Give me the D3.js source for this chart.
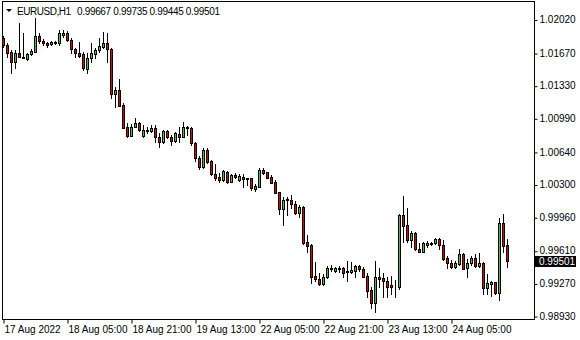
<!DOCTYPE html>
<html>
<head>
<meta charset="utf-8">
<script src="https://cdn.jsdelivr.net/npm/d3@7"></script>
<style>
  html, body { margin: 0; padding: 0; background: #fff; }
  svg { display: block; font-family: "Liberation Sans", Arial, sans-serif; }
</style>
</head>
<body>
<div id="chart"></div>
<script>
// EURUSD H1, 17 Aug 2022 13:00 .. 24 Aug 2022 19:00
const symbolTitle = "EURUSD,H1";

const open = [
  1.01827,1.01754,1.01681,1.01577,1.01671,1.01632,1.01608,1.01657,1.01685,1.01848,
  1.01799,1.01772,1.01764,1.01772,1.01775,1.01858,1.01879,1.01806,1.01712,1.01674,
  1.01657,1.01500,1.01617,1.01660,1.01702,1.01736,1.01778,1.01709,1.01240,1.01285,
  1.01129,1.00896,1.00808,1.00902,1.00938,1.00805,1.00868,1.00861,1.00892,1.00792,
  1.00746,1.00858,1.00798,1.00757,1.00827,1.00798,1.00886,1.00886,1.00730,1.00573,
  1.00479,1.00660,1.00545,1.00406,1.00375,1.00347,1.00427,1.00329,1.00396,1.00347,
  1.00382,1.00365,1.00365,1.00253,1.00278,1.00451,1.00427,1.00375,1.00329,1.00219,
  1.00042,1.00146,1.00139,1.00094,1.00007,1.00063,0.99698,0.99667,0.99348,0.99315,
  0.99263,0.99333,0.99433,0.99399,0.99430,0.99427,0.99402,0.99392,0.99402,0.99451,
  0.99419,0.99347,0.99201,0.99062,0.99333,0.99329,0.99298,0.99253,0.99242,0.99235,
  0.99983,0.99878,0.99722,0.99793,0.99627,0.99601,0.99670,0.99687,0.99687,0.99729,
  0.99670,0.99530,0.99487,0.99443,0.99471,0.99575,0.99427,0.99487,0.99530,0.99454,
  0.99487,0.99218,0.99267,0.99281,0.99172,0.99896,0.99667
];
const high = [
  1.01848,1.01775,1.01702,1.01702,1.01983,1.01879,1.01671,1.01712,1.02035,1.01879,
  1.01817,1.01785,1.01796,1.01796,1.01910,1.01910,1.01900,1.01827,1.01726,1.01789,
  1.01685,1.01671,1.01775,1.01720,1.01827,1.01893,1.01879,1.01723,1.01316,1.01399,
  1.01147,1.00941,1.00931,1.00993,1.00955,1.00920,1.00902,1.00920,1.00920,1.00837,
  1.00868,1.00868,1.00816,1.00844,1.00902,1.00955,1.00910,1.00902,1.00746,1.00597,
  1.00678,1.00684,1.00555,1.00514,1.00417,1.00451,1.00441,1.00409,1.00423,1.00406,
  1.00406,1.00368,1.00368,1.00305,1.00469,1.00469,1.00434,1.00399,1.00347,1.00226,
  1.00173,1.00170,1.00191,1.00132,1.00087,1.00077,0.99774,0.99680,0.99496,0.99374,
  0.99364,0.99451,0.99461,0.99444,0.99451,0.99437,0.99503,0.99496,0.99461,0.99461,
  0.99437,0.99374,0.99235,0.99506,0.99427,0.99374,0.99341,0.99347,0.99305,0.99993,
  1.00180,1.00058,0.99816,0.99809,0.99687,0.99698,0.99712,0.99704,0.99739,0.99739,
  0.99722,0.99554,0.99513,0.99503,0.99624,0.99583,0.99524,0.99554,0.99572,0.99583,
  0.99496,0.99364,0.99295,0.99288,0.99954,0.99990,0.99735
];
const low = [
  1.01733,1.01632,1.01462,1.01514,1.01624,1.01619,1.01598,1.01650,1.01681,1.01775,
  1.01754,1.01736,1.01754,1.01761,1.01754,1.01840,1.01799,1.01671,1.01632,1.01632,
  1.01493,1.01462,1.01580,1.01617,1.01685,1.01720,1.01580,1.01205,1.01111,1.01118,
  1.00886,1.00792,1.00805,1.00899,1.00861,1.00798,1.00840,1.00851,1.00746,1.00694,
  1.00730,1.00782,1.00712,1.00746,1.00746,1.00792,1.00816,1.00712,1.00548,1.00459,
  1.00469,1.00521,1.00399,1.00347,1.00323,1.00340,1.00319,1.00323,1.00365,1.00337,
  1.00272,1.00295,1.00243,1.00236,1.00272,1.00409,1.00365,1.00312,1.00209,0.99990,
  0.99878,0.99983,1.00052,0.99993,0.99959,0.99680,0.99601,0.99272,0.99298,0.99253,
  0.99253,0.99323,0.99402,0.99392,0.99392,0.99333,0.99295,0.99374,0.99341,0.99402,
  0.99333,0.99131,0.99010,0.98974,0.99235,0.99131,0.99125,0.99162,0.99131,0.99211,
  0.99705,0.99705,0.99653,0.99617,0.99594,0.99594,0.99653,0.99670,0.99677,0.99627,
  0.99513,0.99427,0.99433,0.99433,0.99461,0.99419,0.99341,0.99461,0.99443,0.99443,
  0.99156,0.99162,0.99141,0.99162,0.99096,0.99601,0.99445
];
const close = [
  1.01754,1.01674,1.01577,1.01671,1.01629,1.01622,1.01660,1.01695,1.01848,1.01796,
  1.01772,1.01758,1.01785,1.01789,1.01879,1.01882,1.01806,1.01712,1.01671,1.01643,
  1.01511,1.01617,1.01674,1.01702,1.01744,1.01778,1.01709,1.01240,1.01285,1.01121,
  1.00892,1.00805,1.00902,1.00938,1.00868,1.00868,1.00858,1.00892,1.00792,1.00746,
  1.00858,1.00798,1.00757,1.00834,1.00798,1.00896,1.00896,1.00730,1.00573,1.00486,
  1.00660,1.00538,1.00406,1.00365,1.00347,1.00441,1.00329,1.00399,1.00378,1.00389,
  1.00355,1.00358,1.00261,1.00284,1.00451,1.00423,1.00371,1.00319,1.00215,1.00042,
  1.00139,1.00139,1.00094,1.00007,1.00063,0.99687,0.99659,0.99341,0.99312,0.99263,
  0.99333,0.99427,0.99416,0.99427,0.99419,0.99381,0.99389,0.99409,0.99451,0.99416,
  0.99341,0.99193,0.99062,0.99333,0.99312,0.99298,0.99235,0.99235,0.99238,0.99983,
  0.99871,0.99722,0.99793,0.99624,0.99601,0.99687,0.99694,0.99680,0.99729,0.99670,
  0.99520,0.99483,0.99443,0.99478,0.99575,0.99422,0.99487,0.99530,0.99454,0.99487,
  0.99218,0.99271,0.99281,0.99172,0.99896,0.99663,0.99501
];

const priceTicks = [1.02020, 1.01670, 1.01330, 1.00990, 1.00640, 1.00300, 0.99960, 0.99610, 0.99270, 0.98930];
const timeLabels = ["17 Aug 2022", "18 Aug 05:00", "18 Aug 21:00", "19 Aug 13:00",
                    "22 Aug 05:00", "22 Aug 21:00", "23 Aug 13:00", "24 Aug 05:00"];
const barsPerLabel = 16;

const width = 580, height = 340;
const plot = { left: 2, right: 534, top: 1, bottom: 319 };
const fontFamily = "Liberation Sans, Arial, sans-serif";

const bars = open.map((o, i) => ({ i: i, o: o, h: high[i], l: low[i], c: close[i] }));
const last = bars[bars.length - 1];
const fmt = d3.format(".5f");

// 4px per bar, bar 0 sits on pixel column 3
const x = d3.scaleLinear().domain([0, 133]).range([3, 535]);
const y = d3.scaleLinear().domain([0.98899, 1.02202]).range([plot.bottom, plot.top + 1]);
const py = v => Math.round(y(v));

const svg = d3.select("#chart").append("svg")
  .attr("width", width)
  .attr("height", height);

// candles
const candle = svg.append("g").selectAll("g")
  .data(bars)
  .enter().append("g");

candle.append("line")
  .attr("x1", d => x(d.i) + 0.5)
  .attr("x2", d => x(d.i) + 0.5)
  .attr("y1", d => py(d.h))
  .attr("y2", d => py(d.l) + 1)
  .attr("stroke", "#000")
  .attr("stroke-width", 1);

candle.append("rect")
  .attr("x", d => x(d.i) - 0.5)
  .attr("width", 2)
  .attr("y", d => py(Math.max(d.o, d.c)) + 0.5)
  .attr("height", d => py(Math.min(d.o, d.c)) - py(Math.max(d.o, d.c)))
  .attr("fill", d => d.c > d.o ? "#32cd32" : "#e00000")
  .attr("stroke", "#000")
  .attr("stroke-width", 1)
  .attr("shape-rendering", "crispEdges");

// frame
svg.append("rect")
  .attr("x", plot.left + 0.5)
  .attr("y", plot.top + 0.5)
  .attr("width", plot.right - plot.left)
  .attr("height", plot.bottom - plot.top)
  .attr("fill", "none")
  .attr("stroke", "#000")
  .attr("stroke-width", 1);

// price axis
const yAxis = svg.append("g")
  .attr("transform", "translate(" + (plot.right + 0.5) + ",0)")
  .call(d3.axisRight(y).tickValues(priceTicks).tickFormat(fmt).tickSize(3).tickPadding(2));
yAxis.select(".domain").remove();
yAxis.selectAll("line").attr("transform", "translate(0,0.5)");
yAxis.selectAll("text").attr("font-size", 10).attr("font-family", fontFamily).attr("fill", "#000");

// time axis
const xAxis = svg.append("g")
  .attr("transform", "translate(0," + (plot.bottom + 0.5) + ")")
  .call(d3.axisBottom(x)
    .tickValues(d3.range(0, timeLabels.length).map(k => k * barsPerLabel))
    .tickFormat((d, k) => timeLabels[k])
    .tickSize(4).tickPadding(2));
xAxis.select(".domain").remove();
xAxis.selectAll(".tick line").attr("transform", "translate(0.5,0)");
xAxis.selectAll("text")
  .attr("text-anchor", "start")
  .attr("x", 1)
  .attr("font-size", 10)
  .attr("font-family", fontFamily)
  .attr("fill", "#000");

// current price tag
const tagY = py(last.c);
svg.append("rect")
  .attr("x", plot.right + 1)
  .attr("y", tagY - 5)
  .attr("width", 41)
  .attr("height", 11)
  .attr("fill", "#000");
svg.append("text")
  .attr("x", plot.right + 5)
  .attr("y", tagY + 4)
  .attr("font-size", 10)
  .attr("fill", "#fff")
  .text(fmt(last.c));

// header
svg.append("path")
  .attr("d", "M6,9 L12,9 L9,12 Z")
  .attr("fill", "#000");
svg.append("text")
  .attr("x", 17)
  .attr("y", 15)
  .attr("font-size", 10)
  .attr("fill", "#000")
  .attr("textLength", 54)
  .text(symbolTitle);
svg.append("text")
  .attr("x", 77)
  .attr("y", 15)
  .attr("font-size", 10)
  .attr("fill", "#000")
  .attr("textLength", 143)
  .text([last.o, last.h, last.l, last.c].map(fmt).join(" "));
</script>
</body>
</html>
